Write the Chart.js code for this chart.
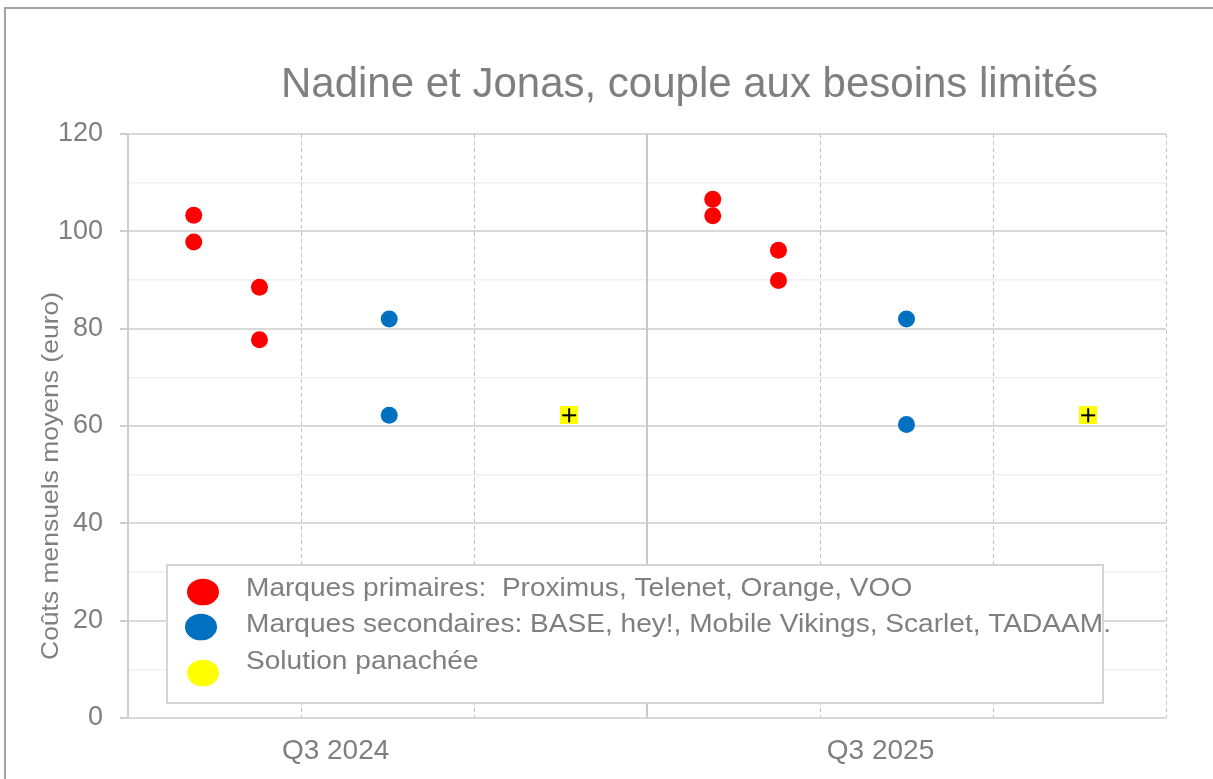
<!DOCTYPE html>
<html>
<head>
<meta charset="utf-8">
<script src="https://cdn.jsdelivr.net/npm/chart.js@4/dist/chart.umd.min.js"></script>
<style>
  html, body { margin: 0; padding: 0; background: #ffffff; overflow: hidden; }
  canvas { display: block; }
</style>
</head>
<body>
<canvas id="graphique" width="1213" height="779"></canvas>
<script>
// Textes
const titre = 'Nadine et Jonas, couple aux besoins limités';
const titreAxeY = 'Coûts mensuels moyens (euro)';
const trimestres = ['Q3 2024', 'Q3 2025'];
const positionsTrimestres = [1.2, 4.35];
const libelles = [
  'Marques primaires:  Proximus, Telenet, Orange, VOO',
  'Marques secondaires: BASE, hey!, Mobile Vikings, Scarlet, TADAAM.',
  'Solution panachée'
];

// Coûts mensuels moyens (euro) et positions horizontales des offres
const primairesX = [0.38, 0.38, 0.76, 0.76, 3.38, 3.38, 3.76, 3.76];
const primairesY = [103.3, 97.8, 88.5, 77.7, 106.6, 103.2, 96.1, 89.9];
const secondairesX = [1.51, 1.51, 4.5, 4.5];
const secondairesY = [82.0, 62.2, 82.0, 60.3];
const panacheeX = [2.55, 5.55];
const panacheeY = [62.2, 62.2];

// Graduations
const yMin = 0, yMax = 120, yPas = 10;
const xMin = 0, xMax = 6;
const separations = [1, 2, 3, 4, 5, 6];
const separationPleine = 3;

const points = (xs, ys) => xs.map((x, i) => ({ x: x, y: ys[i] }));

// Marqueur carré jaune avec une croix noire
const croix = document.createElement('canvas');
croix.width = 18; croix.height = 18;
(function () {
  const g = croix.getContext('2d');
  g.fillStyle = '#ffff00';
  g.fillRect(0, 0, 18, 18);
  g.fillStyle = '#000000';
  g.fillRect(2, 8, 14, 2);
  g.fillRect(8, 2, 2, 14);
})();

const GRIS_TEXTE = '#7f7f7f';

function texteAjuste(ctx, texte, police, taille, largeur, x, y, align) {
  ctx.font = taille + 'px ' + police;
  const w = ctx.measureText(texte).width;
  const sx = largeur / w;
  ctx.save();
  ctx.translate(x, y);
  ctx.scale(sx, 1);
  ctx.textAlign = align;
  ctx.fillText(texte, 0, 0);
  ctx.restore();
}

const decor = {
  id: 'decor',
  beforeDraw(chart) {
    const ctx = chart.ctx;
    ctx.save();
    ctx.fillStyle = '#ffffff';
    ctx.fillRect(0, 0, chart.width, chart.height);
    ctx.fillStyle = '#a3a3a3';
    ctx.fillRect(4, 7, chart.width, 2);
    ctx.fillRect(4, 7, 2, chart.height);
    ctx.restore();
  },
  beforeDatasetsDraw(chart) {
    const ctx = chart.ctx;
    const a = chart.chartArea;
    const sx = chart.scales.x;
    ctx.save();
    separations.forEach(v => {
      const px = Math.round(sx.getPixelForValue(v));
      ctx.beginPath();
      if (v === separationPleine) {
        ctx.setLineDash([]);
        ctx.strokeStyle = '#c8c8c8';
        ctx.lineWidth = 2;
      } else {
        ctx.setLineDash([4, 3]);
        ctx.strokeStyle = '#c4c4c4';
        ctx.lineWidth = 1;
      }
      ctx.moveTo(px + (ctx.lineWidth === 1 ? 0.5 : 0), a.top);
      ctx.lineTo(px + (ctx.lineWidth === 1 ? 0.5 : 0), a.bottom);
      ctx.stroke();
    });
    ctx.restore();
  },
  afterDraw(chart) {
    const ctx = chart.ctx;
    ctx.save();
    ctx.fillStyle = GRIS_TEXTE;
    ctx.textBaseline = 'alphabetic';

    // Titre
    texteAjuste(ctx, titre, '"Liberation Sans", Arial, sans-serif', 42, 817, 689.5, 97, 'center');

    // Titre de l'axe vertical
    ctx.save();
    ctx.translate(58, 476);
    ctx.rotate(-Math.PI / 2);
    ctx.textBaseline = 'alphabetic';
    texteAjuste(ctx, titreAxeY, '"Liberation Sans", Arial, sans-serif', 24, 368, 0, 0, 'center');
    ctx.restore();

    // Légende
    const bx = 167, by = 565, bw = 936, bh = 138;
    ctx.fillStyle = '#ffffff';
    ctx.fillRect(bx, by, bw, bh);
    ctx.strokeStyle = '#d4d4d4';
    ctx.lineWidth = 2;
    ctx.strokeRect(bx, by, bw, bh);

    const marqueursY = [592, 627, 673];
    const marqueursX = [203, 201, 203];
    const lignesY = [596, 632, 669];
    const largeurs = [null, 865, null];
    ctx.font = '25px "Liberation Sans", Arial, sans-serif';
    const ref = ctx.measureText(libelles[1]).width;
    const echelle = 865 / ref;
    chart.data.datasets.forEach((ds, i) => {
      ctx.fillStyle = ds.legendColor;
      ctx.beginPath();
      ctx.ellipse(marqueursX[i], marqueursY[i], 16, 13.3, 0, 0, Math.PI * 2);
      ctx.fill();
      ctx.fillStyle = GRIS_TEXTE;
      ctx.font = '25px "Liberation Sans", Arial, sans-serif';
      const w = ctx.measureText(ds.label).width;
      texteAjuste(ctx, ds.label, '"Liberation Sans", Arial, sans-serif', 25, w * echelle, 246, lignesY[i], 'left');
    });
    ctx.restore();
  }
};

new Chart(document.getElementById('graphique'), {
  type: 'scatter',
  data: {
    datasets: [
      {
        label: libelles[0],
        data: points(primairesX, primairesY),
        backgroundColor: '#ff0000',
        borderColor: '#ff0000',
        legendColor: '#ff0000',
        pointRadius: 8.5,
        borderWidth: 0
      },
      {
        label: libelles[1],
        data: points(secondairesX, secondairesY),
        backgroundColor: '#0070c0',
        borderColor: '#0070c0',
        legendColor: '#0070c0',
        pointRadius: 8.5,
        borderWidth: 0
      },
      {
        label: libelles[2],
        data: points(panacheeX, panacheeY),
        backgroundColor: '#ffff00',
        borderColor: '#ffff00',
        legendColor: '#ffff00',
        pointStyle: croix,
        pointRadius: 9,
        borderWidth: 0
      }
    ]
  },
  options: {
    responsive: false,
    devicePixelRatio: 1,
    animation: false,
    events: [],
    layout: { padding: { left: 0, right: 47, top: 134, bottom: 0 } },
    plugins: {
      legend: { display: false },
      title: { display: false },
      tooltip: { enabled: false }
    },
    scales: {
      x: {
        type: 'linear',
        position: 'bottom',
        min: xMin, max: xMax,
        grid: { display: false },
        border: { display: false },
        ticks: { display: false },
        afterFit(s) { s.height = 0; }
      },
      x2: {
        type: 'linear',
        position: 'bottom',
        min: xMin, max: xMax,
        grid: { display: false, drawTicks: false },
        border: { display: false },
        afterBuildTicks(s) { s.ticks = positionsTrimestres.map(v => ({ value: v })); },
        ticks: {
          autoSkip: false,
          maxRotation: 0,
          padding: 16,
          color: GRIS_TEXTE,
          font: { family: '"Liberation Sans", Arial, sans-serif', size: 28 },
          callback: (v, i) => trimestres[i]
        },
        afterFit(s) { s.height = 61; }
      },
      y: {
        type: 'linear',
        min: yMin, max: yMax,
        afterFit(s) { s.width = 128; },
        border: { display: true, color: '#cfcfcf', width: 2 },
        grid: {
          color: c => (c.tick && c.tick.value % 20 === 0) ? '#d9d9d9' : '#f0f0f0',
          lineWidth: c => (c.tick && c.tick.value % 20 === 0) ? 2 : 1.5,
          tickColor: c => (c.tick && c.tick.value % 20 === 0) ? '#cfcfcf' : 'rgba(0,0,0,0)',
          tickLength: 8,
          drawTicks: true
        },
        ticks: {
          stepSize: yPas,
          autoSkip: false,
          padding: 17,
          color: GRIS_TEXTE,
          font: { family: '"Liberation Sans", Arial, sans-serif', size: 27 },
          callback: v => (v % 20 === 0 ? String(v) : '')
        }
      }
    }
  },
  plugins: [decor]
});
</script>
</body>
</html>
